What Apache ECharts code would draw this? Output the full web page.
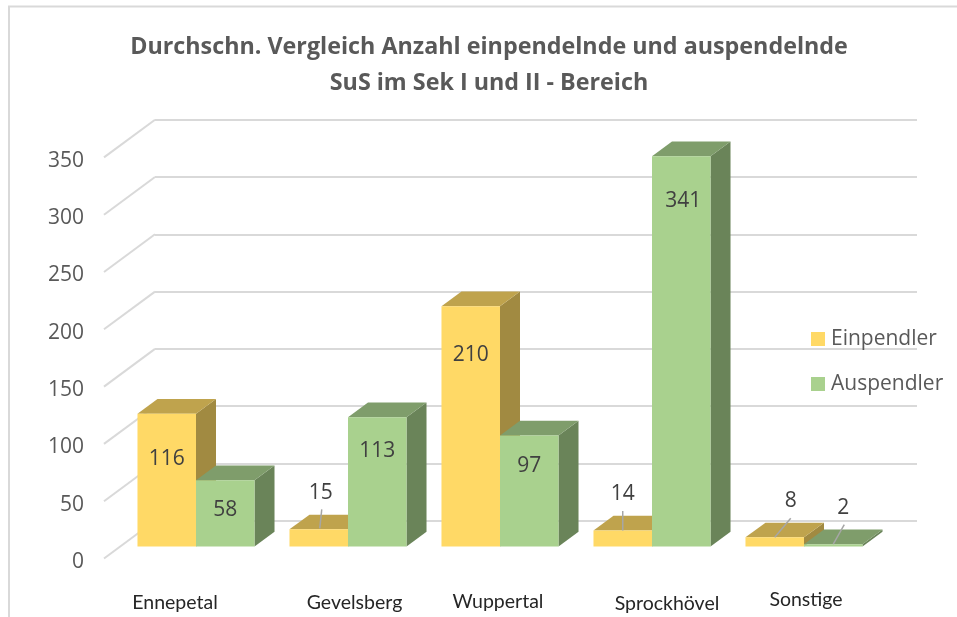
<!DOCTYPE html>
<html>
<head>
<meta charset="utf-8">
<title>Ein- und Auspendler</title>
<script src="https://cdn.jsdelivr.net/npm/echarts@6/dist/echarts.min.js"></script>
<style>
html, body { margin: 0; padding: 0; background: #fff; }
#graph { width: 957px; height: 617px; }
</style>
</head>
<body>
<div id="graph"></div>
<script>
"use strict"

const categories = ["Ennepetal", "Gevelsberg", "Wuppertal", "Sprockhövel", "Sonstige"];
const einpendler = [116, 15, 210, 14, 8];
const auspendler = [58, 113, 97, 341, 2];
const valueTicks = [0, 50, 100, 150, 200, 250, 300, 350];
const titleText = "Durchschn. Vergleich Anzahl einpendelnde und auspendelnde\nSuS im Sek I und II - Bereich";

// hand placed labels of the original, as [dx, dy] from the top centre of the bar front
const einLabelShift = [[0, 45], [2, -36], [0, 49], [0, -36], [16, -36]];
const ausLabelShift = [[0, 30], [0, 34], [0, 31], [2, 45], [10, -36]];
// leader lines of the small bars, [x1, y1, x2, y2] relative to the top centre
const einLeader = [null, [1, -1, 3, -20], null, [0, 0, 0, -19.5], [0, 0, 16, -19]];
const ausLeader = [null, null, null, null, [0, 0, 11, -19.5]];
// category labels sit off-centre in the original, [dx, y]
const categoryShift = [[-21, 603], [6.5, 603], [-2, 602], [15, 604], [2, 600]];

const wallDepth = [51, 37.7];
const barDepth = [20, 14.7];
const barRatio = 0.385;
const gridColor = "#d9d9d9";
const labelColor = "#595959";
const fontName = "'Open Sans', sans-serif";

const myChart = echarts.init(document.getElementById("graph"), null, { renderer: "canvas" });

function hiddenCategoryAxis(gridIndex)
{
    return {
        type: "category", gridIndex: gridIndex, data: categories,
        axisLine: { show: false }, axisTick: { show: false }, axisLabel: { show: false }, splitLine: { show: false }
    };
}

function valueAxis(gridIndex, extra)
{
    return Object.assign({
        type: "value", gridIndex: gridIndex, min: 0, max: 350, interval: 50,
        axisLine: { show: false }, axisTick: { show: false }, axisLabel: { show: false }, splitLine: { show: false }
    }, extra);
}

function renderWall(params, api)
{
    const p = api.coord([0, api.value(1)]);
    const left = params.coordSys.x;
    return {
        type: "line",
        shape: { x1: left, y1: p[1], x2: left - wallDepth[0], y2: p[1] + wallDepth[1] },
        style: { stroke: gridColor, lineWidth: 2 }
    };
}

function makeBarRender(side, front, top, dark, shifts, leaders)
{
    return (params, api) =>
    {
        const idx = api.value(0);
        const val = api.value(1);
        const p = api.coord([idx, val]);
        const base = api.coord([idx, 0]);
        const w = api.size([1, 0])[0] * barRatio;
        const x0 = side < 0 ? p[0] - w : p[0];
        const x1 = x0 + w;
        const y0 = p[1], y1 = base[1];
        const dx = barDepth[0], dy = barDepth[1];
        const cx = (x0 + x1) / 2;
        const children = [
            { type: "polygon", shape: { points: [[x1, y0], [x1 + dx, y0 - dy], [x1 + dx, y1 - dy], [x1, y1]] }, style: { fill: dark } },
            { type: "polygon", shape: { points: [[x0, y0], [x1, y0], [x1 + dx, y0 - dy], [x0 + dx, y0 - dy]] }, style: { fill: top } },
            { type: "rect", shape: { x: x0, y: y0, width: w, height: y1 - y0 }, style: { fill: front } }
        ];
        const lead = leaders[idx];
        if (lead)
            children.push({
                type: "line",
                shape: { x1: cx + lead[0], y1: y0 + lead[1], x2: cx + lead[2], y2: y0 + lead[3] },
                style: { stroke: "#a6a6a6", lineWidth: 1.5 }
            });
        children.push({
            type: "text",
            style: {
                x: cx + shifts[idx][0], y: y0 + shifts[idx][1], text: String(val),
                fill: "#404040", font: "21px " + fontName, align: "center", verticalAlign: "middle"
            }
        });
        return { type: "group", children: children };
    };
}

function renderCategory(params, api)
{
    const idx = api.value(0);
    const p = api.coord([idx, 0]);
    return {
        type: "text",
        style: {
            x: p[0] + categoryShift[idx][0], y: categoryShift[idx][1], text: categories[idx],
            fill: "#262626", font: "19.5px Lato, sans-serif", align: "center", verticalAlign: "middle"
        }
    };
}

const option = {
    backgroundColor: "#fff",
    animation: false,
    title: {
        text: titleText, left: 484, top: 24, textAlign: "center",
        textStyle: { fontFamily: fontName, fontSize: 23.3, fontWeight: "bold", color: labelColor, lineHeight: 36 }
    },
    legend: {
        orient: "vertical", left: 806, top: 323.5, itemWidth: 14, itemHeight: 14, itemGap: 24, icon: "rect",
        data: ["Einpendler", "Auspendler"],
        textStyle: { fontFamily: fontName, fontSize: 21, color: labelColor, padding: [0, 0, 0, 1] }
    },
    graphic: [{
        type: "polyline", silent: true,
        shape: { points: [[9, 617], [9, 6.5], [957, 6.5]] },
        style: { stroke: gridColor, lineWidth: 2, fill: null }
    }],
    grid: [
        { left: 155, top: 119.7, width: 762, height: 401.1 },
        { left: 104, top: 160.9, width: 762, height: 401.1 },
        { left: 120, top: 146, width: 760, height: 400.5 }
    ],
    xAxis: [hiddenCategoryAxis(0), hiddenCategoryAxis(1), hiddenCategoryAxis(2)],
    yAxis: [
        valueAxis(0, { splitLine: { show: true, lineStyle: { color: gridColor, width: 2 } } }),
        valueAxis(1, { axisLabel: { show: true, margin: 20, color: labelColor, fontFamily: fontName, fontSize: 21 } }),
        valueAxis(2, {})
    ],
    series: [
        {
            type: "custom", name: "wall", xAxisIndex: 0, yAxisIndex: 0, silent: true, z: 1,
            renderItem: renderWall,
            data: valueTicks.map(v => [0, v])
        },
        {
            type: "custom", name: "Einpendler", xAxisIndex: 2, yAxisIndex: 2, z: 2,
            itemStyle: { color: "#ffd966" },
            renderItem: makeBarRender(-1, "#ffd966", "#bfa34d", "#a18a41", einLabelShift, einLeader),
            encode: { x: 0, y: 1 },
            data: einpendler.map((v, i) => [i, v])
        },
        {
            type: "custom", name: "Auspendler", xAxisIndex: 2, yAxisIndex: 2, z: 3,
            itemStyle: { color: "#a9d18e" },
            renderItem: makeBarRender(1, "#a9d18e", "#7f9d6b", "#6a8459", ausLabelShift, ausLeader),
            encode: { x: 0, y: 1 },
            data: auspendler.map((v, i) => [i, v])
        },
        {
            type: "custom", name: "categories", xAxisIndex: 2, yAxisIndex: 2, silent: true, z: 4,
            renderItem: renderCategory,
            data: categories.map((c, i) => [i, 0])
        }
    ]
};
myChart.setOption(option);
</script>
</body>
</html>
